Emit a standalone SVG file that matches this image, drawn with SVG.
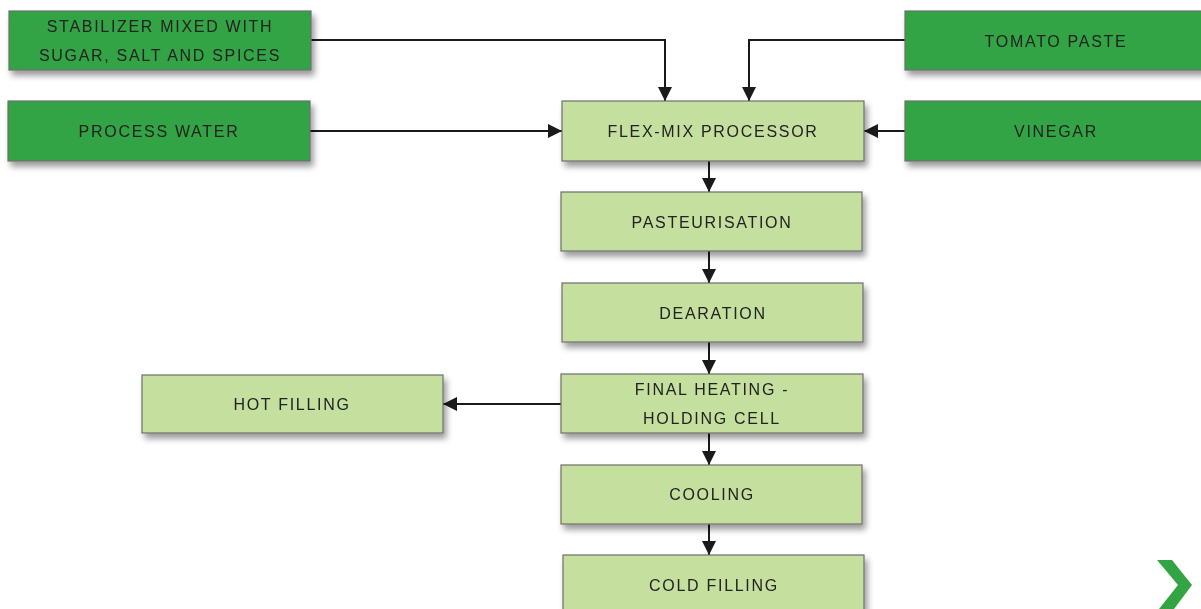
<svg xmlns="http://www.w3.org/2000/svg" width="1201" height="609" viewBox="0 0 1201 609">
<style>
.dark{fill:#33a444;stroke:#6e6e6e;stroke-width:1.2}
.light{fill:#c5df9e;stroke:#6e6e6e;stroke-width:1.2}
text{font-family:"Liberation Sans",Arial,sans-serif;font-size:16px;letter-spacing:1.7px;fill:#222;text-anchor:middle}
.c{fill:none;stroke:#1a1a1a;stroke-width:2}
</style>
<defs>
<filter id="sh" x="-5%" y="-20%" width="115%" height="160%">
<feGaussianBlur in="SourceAlpha" stdDeviation="3"/>
<feOffset dx="3" dy="5" result="b"/>
<feComponentTransfer><feFuncA type="linear" slope="0.4"/></feComponentTransfer>
<feMerge><feMergeNode/><feMergeNode in="SourceGraphic"/></feMerge>
</filter>
<marker id="a" viewBox="0 0 14 14" refX="14" refY="7" markerWidth="14" markerHeight="14" orient="auto" markerUnits="userSpaceOnUse">
<path d="M0,0 L14,7 L0,14 z" fill="#1a1a1a"/>
</marker>
</defs>
<g id="connectors">
<path class="c" d="M311,40 H665 V101" marker-end="url(#a)"/>
<path class="c" d="M905,40 H749 V101" marker-end="url(#a)"/>
<path class="c" d="M310,131 H562" marker-end="url(#a)"/>
<path class="c" d="M905,131 H864" marker-end="url(#a)"/>
<path class="c" d="M709,161 V192" marker-end="url(#a)"/>
<path class="c" d="M709,251 V283" marker-end="url(#a)"/>
<path class="c" d="M709,342 V374" marker-end="url(#a)"/>
<path class="c" d="M709,433 V465" marker-end="url(#a)"/>
<path class="c" d="M709,524 V555" marker-end="url(#a)"/>
<path class="c" d="M561,404 H443" marker-end="url(#a)"/>
</g>
<g id="stabilizer" filter="url(#sh)"><rect class="dark" x="9" y="11" width="302" height="59"/>
<text x="160" y="32">STABILIZER MIXED WITH</text><text x="160" y="61">SUGAR, SALT AND SPICES</text></g>
<g id="process-water" filter="url(#sh)"><rect class="dark" x="8" y="101" width="302" height="60"/>
<text x="159" y="137">PROCESS WATER</text></g>
<g id="tomato-paste" filter="url(#sh)"><rect class="dark" x="905" y="11" width="302" height="59"/>
<text x="1056" y="47">TOMATO PASTE</text></g>
<g id="vinegar" filter="url(#sh)"><rect class="dark" x="905" y="101" width="302" height="60"/>
<text x="1056" y="137">VINEGAR</text></g>
<g id="flex-mix" filter="url(#sh)"><rect class="light" x="562" y="101" width="302" height="60"/>
<text x="713" y="137">FLEX-MIX PROCESSOR</text></g>
<g id="pasteurisation" filter="url(#sh)"><rect class="light" x="561" y="192" width="301" height="59"/>
<text x="712" y="228">PASTEURISATION</text></g>
<g id="dearation" filter="url(#sh)"><rect class="light" x="562" y="283" width="301" height="59"/>
<text x="713" y="319">DEARATION</text></g>
<g id="final-heating" filter="url(#sh)"><rect class="light" x="561" y="374" width="302" height="59"/>
<text x="712" y="395">FINAL HEATING -</text><text x="712" y="424">HOLDING CELL</text></g>
<g id="hot-filling" filter="url(#sh)"><rect class="light" x="142" y="375" width="301" height="58"/>
<text x="292" y="410">HOT FILLING</text></g>
<g id="cooling" filter="url(#sh)"><rect class="light" x="561" y="465" width="301" height="59"/>
<text x="712" y="500">COOLING</text></g>
<g id="cold-filling" filter="url(#sh)"><rect class="light" x="563" y="555" width="301" height="60"/>
<text x="714" y="591">COLD FILLING</text></g>
<polygon points="1157,560 1172,560 1192,585 1174,609 1159,609 1178,585" fill="#33a444"/>
</svg>
